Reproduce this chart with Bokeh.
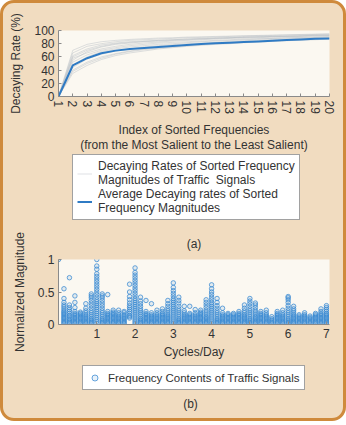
from bokeh.plotting import figure
from bokeh.models import Legend, LegendItem, Label
from bokeh.layouts import column
from bokeh.embed import file_html
from bokeh.resources import INLINE

FONT = "Liberation Sans"
TXT = "#333333"

# ---------- (a) decaying rates of sorted frequency magnitudes ----------
index = list(range(1, 21))

signal_rates = [
    [0, 62, 72, 78, 81, 83, 84, 85, 86, 87, 88, 88.5, 89, 90, 90.5, 91, 91.5, 92, 92.5, 93],
    [0, 55, 68, 75, 79, 81, 83, 84, 85, 86, 87, 88, 89, 89.5, 90, 90.5, 91, 91.5, 92, 92.5],
    [0, 48, 60, 68, 72, 75, 77, 79, 80, 81.5, 83, 84, 85, 86, 87, 88, 88.5, 89, 89.5, 90],
    [0, 40, 52, 60, 65, 69, 72, 74, 76, 78, 79.5, 81, 82, 83, 84, 85, 86, 87, 87.5, 88],
    [0, 35, 47, 56, 62, 66, 69, 72, 74, 76, 77.5, 79, 80, 81.5, 82.5, 83.5, 84.5, 85.5, 86, 87],
    [0, 66, 76, 80, 83, 85, 86, 87, 88, 89, 89.5, 90, 91, 91.5, 92, 92.5, 93, 93.5, 94, 94.5],
    [0, 58, 66, 72, 76, 79, 81, 82.5, 84, 85, 86, 87, 88, 88.5, 89, 90, 90.5, 91, 91.5, 92],
    [0, 44, 57, 64, 69, 72, 75, 77, 78.5, 80, 81, 82, 83.5, 84.5, 85.5, 86.5, 87, 88, 88.5, 89],
    [0, 52, 63, 70, 74, 77, 79, 81, 82, 83, 84, 85, 86, 87, 87.5, 88, 89, 89.5, 90, 91],
    [0, 38, 50, 58, 64, 68, 71, 73, 75, 77, 78.5, 80, 81, 82, 83.5, 84.5, 85, 86, 86.5, 87.5],
    [0, 70, 79, 83, 85, 86.5, 87.5, 88.5, 89, 90, 90.5, 91, 91.5, 92, 92.5, 93, 93.5, 94, 94.5, 95],
    [0, 60, 70, 76, 80, 82, 83.5, 85, 86, 87, 87.5, 88.5, 89, 90, 90.5, 91, 91.5, 92, 93, 93.5],
]

average_rate = [0, 47, 58, 65.5, 69.5, 72, 73.5, 75, 76.5, 78, 79.5, 80.5, 81.5,
                82.5, 83.5, 84.5, 85.5, 86.5, 87.5, 88]

y_ticks_a = [0, 20, 40, 60, 80, 100]

# ---------- (b) frequency contents, one column per 1/7 cycles/day bin ----------
dc_values = [1.0]

band_0_1 = [
    [.01, .03, .05, .07, .09, .11, .13, .15, .17, .19, .21, .24, .27, .30, .34, .40, .55],
    [.01, .03, .05, .07, .09, .12, .14, .17, .20, .23, .26, .30, .72],
    [.01, .03, .05, .07, .09, .11, .13, .15, .17, .20, .26, .34, .44],
    [.01, .03, .05, .07, .09, .11, .13, .15, .17, .19],
    [.01, .03, .05, .07, .09, .11, .13, .15, .18, .21, .25, .32],
    [.01, .03, .05, .07, .09, .12, .15, .18, .21, .25, .29, .33, .37, .41, .44, .47],
    [.02, .05, .08, .11, .14, .17, .20, .23, .26, .29, .32, .35, .38, .42, .46, .50,
     .54, .58, .62, .66, .70, .74, .78, .85, .90, 1.0],
]
band_1_2 = [
    [.01, .03, .05, .07, .09, .12, .15, .18, .21, .25, .29, .33, .37, .41, .44, .47],
    [.01, .03, .05, .07, .09, .11, .13, .15, .17, .20, .46],
    [.01, .03, .05, .07, .09, .11, .13, .15, .17, .19, .22],
    [.01, .03, .05, .07, .09, .11, .13, .15, .18, .22],
    [.01, .03, .05, .07, .09, .11, .13, .15, .18, .20],
    [.10, .12, .14, .17, .20, .23, .26, .29, .33, .38, .43, .50, .62],
    [.01, .04, .07, .10, .13, .16, .19, .22, .25, .28, .31, .34, .37, .40, .44, .48,
     .52, .56, .60, .64, .68, .72, .76, .80, .87],
]
band_2_3 = [
    [.01, .03, .05, .07, .09, .12, .15, .18, .21, .24, .28, .32, .36, .42],
    [.01, .03, .05, .07, .09, .11, .13, .15, .17, .20, .37],
    [.01, .03, .05, .07, .09, .11, .13, .15, .18, .32],
    [.01, .03, .05, .07, .09, .11, .13, .15, .18, .22],
    [.01, .03, .05, .07, .09, .11, .13, .15, .17, .20, .24],
    [.01, .03, .05, .07, .09, .11, .13, .15, .18, .21, .24, .28, .32, .37],
    [.01, .04, .07, .10, .13, .16, .19, .22, .25, .28, .31, .34, .37, .40, .44, .48,
     .52, .57, .64],
]
band_3_4 = [
    [.01, .03, .05, .07, .09, .12, .15, .18, .21, .24, .28, .33, .37, .42],
    [.01, .03, .05, .07, .09, .11, .13, .15, .18, .21, .28],
    [.01, .03, .05, .07, .09, .11, .13, .15, .17, .28],
    [.01, .03, .05, .07, .09, .11, .13, .15, .18, .23],
    [.01, .03, .05, .07, .09, .11, .13, .15, .17, .19, .22],
    [.01, .03, .05, .07, .09, .11, .13, .16, .19, .22, .26, .30, .34, .38],
    [.01, .04, .07, .10, .13, .16, .19, .22, .25, .28, .31, .34, .38, .42, .46, .50,
     .55, .61],
]
band_4_5 = [
    [.01, .03, .05, .07, .09, .12, .15, .18, .21, .25, .29, .34, .40],
    [.01, .03, .05, .07, .09, .11, .13, .15, .18, .25],
    [.01, .03, .05, .07, .09, .11, .13, .15, .17],
    [.01, .03, .05, .07, .09, .11, .13, .15, .17],
    [.01, .03, .05, .07, .09, .11, .13, .15, .17, .20],
    [.01, .03, .05, .07, .09, .11, .13, .15, .18, .21, .25, .30],
    [.01, .03, .05, .07, .09, .12, .15, .18, .21, .24, .28, .32, .36, .40],
]
band_5_6 = [
    [.01, .03, .05, .07, .09, .11, .13, .16, .19, .22, .26, .30, .33],
    [.01, .03, .05, .07, .09, .11, .13, .15, .17, .20],
    [.01, .03, .05, .07, .09, .11, .13, .15, .18, .22],
    [.01, .03, .05, .07, .09, .12],
    [.01, .03, .05, .07, .09, .11, .13, .15, .17, .20],
    [.01, .03, .05, .07, .09, .11, .13, .15, .18, .22],
    [.01, .03, .05, .07, .09, .12, .15, .18, .21, .25, .29, .34, .38, .41, .43],
]
band_6_7 = [
    [.01, .03, .05, .07, .09, .11, .13, .15, .18, .21, .24, .28],
    [.01, .03, .05, .07, .09, .11, .13, .15],
    [.01, .03, .05, .07, .09, .11, .13, .15, .18],
    [.01, .03, .05, .07, .09, .11, .13],
    [.01, .03, .05, .07, .09, .11, .13, .15, .17],
    [.01, .03, .05, .07, .09, .11, .13, .15, .17, .20, .24],
    [.01, .03, .05, .07, .09, .11, .13, .15, .17, .20, .23, .26, .29],
]

bins_per_cycle = 7
x_ticks_b = [1, 2, 3, 4, 5, 6, 7]
y_ticks_b = [0, 0.5, 1]
y_labels_b = {0: "0", 0.5: "0.5", 1: "1"}

GRAY_STYLE = dict(line_color="#b9bfc6", line_alpha=0.6, line_width=0.8)
AVG_STYLE = dict(line_color="#2f7bc4", line_width=2)
DOT_STYLE = dict(marker="circle", size=4.5, line_color="#3a8ad2", line_alpha=0.85,
                 line_width=0.9, fill_color="#3a8ad2", fill_alpha=0.12)

# the column lines up the plot frames, so every figure shares these side borders
LEFT, RIGHT = 55, 14
FRAME_W = 340 - LEFT - RIGHT


def style_axes(p):
    p.xgrid.visible = False
    p.ygrid.visible = False
    p.outline_line_color = None
    p.background_fill_color = "#fbf8f1"
    p.border_fill_alpha = 0
    for ax in (p.xaxis[0], p.yaxis[0]):
        ax.axis_line_color = "#8a8a8a"
        ax.major_tick_line_color = "#8a8a8a"
        ax.major_tick_in = 3
        ax.major_tick_out = 0
        ax.minor_tick_line_color = None
        ax.major_label_text_font = FONT
        ax.major_label_text_font_size = "12px"
        ax.major_label_text_color = TXT
        ax.axis_label_text_font = FONT
        ax.axis_label_text_font_size = "12px"
        ax.axis_label_text_font_style = "normal"
        ax.axis_label_text_color = TXT
        ax.major_label_standoff = 4
        ax.axis_label_standoff = 8


def blank_panel(height):
    # a bare strip (no axes); its frame is measured in pixels
    p = figure(width=340, height=height, x_range=(0, FRAME_W), y_range=(0, height),
               output_backend="svg", toolbar_location=None,
               x_axis_location=None, y_axis_location=None,
               min_border_left=LEFT, min_border_right=RIGHT,
               min_border_top=0, min_border_bottom=0)
    p.xgrid.visible = False
    p.ygrid.visible = False
    p.outline_line_color = None
    p.background_fill_alpha = 0
    p.border_fill_alpha = 0
    return p


def box_legend(items, loc, size):
    return Legend(items=items, location=loc,
                  background_fill_color="white", background_fill_alpha=1,
                  border_line_color="#444444", border_line_width=1,
                  label_text_font=FONT, label_text_font_size=size,
                  label_text_line_height=1.1,
                  label_text_color=TXT, glyph_width=15, glyph_height=15,
                  label_standoff=6, padding=4, spacing=0, margin=0)


# ---------- figure (a) ----------
fa = figure(width=340, height=151, x_range=(1, 20), y_range=(0, 100),
            output_backend="svg", toolbar_location=None,
            min_border_left=LEFT, min_border_right=RIGHT, min_border_top=27,
            min_border_bottom=58)
style_axes(fa)
fa.xaxis.ticker = index
fa.xaxis.major_label_orientation = "vertical"
fa.xaxis.axis_label_standoff = 6
fa.xaxis.axis_label_text_line_height = 1.05
fa.yaxis.ticker = y_ticks_a
fa.xaxis.axis_label = "Index of Sorted Frequencies\n(from the Most Salient to the Least Salient)"
fa.yaxis.axis_label = "Decaying Rate (%)"

fa.multi_line([index] * len(signal_rates), signal_rates, **GRAY_STYLE)
fa.line(index, average_rate, **AVG_STYLE)

# legend strip for (a)
la = blank_panel(71)
gray_key = la.multi_line([index] * len(signal_rates), signal_rates, visible=False, **GRAY_STYLE)
avg_key = la.line(index, average_rate, visible=False, **AVG_STYLE)
la.add_layout(box_legend([
    LegendItem(label="Decaying Rates of Sorted Frequency\nMagnitudes of Traffic  Signals",
               renderers=[gray_key]),
    LegendItem(label="Average Decaying rates of Sorted\nFrequency Magnitudes",
               renderers=[avg_key]),
], (14, 5), "12px"))

# ---------- figure (b) ----------
fb = figure(width=340, height=136, x_range=(0, 7.08), y_range=(0, 1),
            output_backend="svg", toolbar_location=None,
            min_border_left=LEFT, min_border_right=RIGHT, min_border_top=32,
            min_border_bottom=37)
style_axes(fb)
fb.title.text = "(a)"
fb.title.align = "center"
fb.title.offset = -3
fb.title.text_font = FONT
fb.title.text_font_size = "12px"
fb.title.text_font_style = "normal"
fb.title.text_color = TXT
fb.title.standoff = 18
fb.xaxis.ticker = x_ticks_b
fb.xaxis.axis_label_standoff = 4
fb.yaxis.ticker = y_ticks_b
fb.yaxis.major_label_overrides = y_labels_b
fb.xaxis.axis_label = "Cycles/Day"
fb.yaxis.axis_label = "Normalized Magnitude"

xs, ys = [], []
for v in dc_values:
    xs.append(0.0)
    ys.append(v)
columns_b = band_0_1 + band_1_2 + band_2_3 + band_3_4 + band_4_5 + band_5_6 + band_6_7
for k, col in enumerate(columns_b, start=1):
    for v in col:
        xs.append(k / bins_per_cycle)
        ys.append(v)

fb.scatter(xs, ys, **DOT_STYLE)

# legend strip and caption for (b)
lb = blank_panel(57)
dot_key = lb.scatter(xs, ys, visible=False, **DOT_STYLE)
lb.add_layout(box_legend([LegendItem(label="Frequency Contents of Traffic Signals",
                                     renderers=[dot_key])], (24, 28), "11.5px"))
lb.add_layout(Label(x=132, y=15, text="(b)", text_align="center", text_baseline="middle",
                    text_font=FONT, text_font_size="12px", text_color=TXT))

page = column(fa, la, fb, lb, width=346, height=421,
              styles={"background-color": "#f1dcc0",
                      "border": "3px solid #cf8a3c",
                      "border-radius": "14px",
                      "box-sizing": "border-box"})

open("out.html", "w").write(file_html(page, INLINE))
